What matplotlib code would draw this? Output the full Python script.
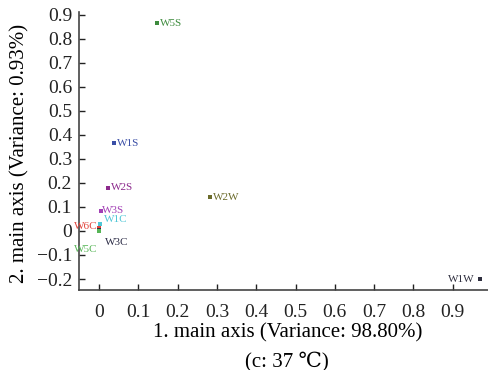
import matplotlib
matplotlib.use('Agg')
import matplotlib.pyplot as plt
from matplotlib.ticker import FuncFormatter

plt.rcParams['font.family'] = ['Liberation Serif', 'DejaVu Serif']
plt.rcParams['axes.unicode_minus'] = True

# Sample scores on the first two main axes
labels = ['W5S', 'W1S', 'W2S', 'W2W', 'W3S', 'W1C', 'W6C', 'W3C', 'W5C', 'W1W']
axis1 = [0.148, 0.038, 0.023, 0.283, 0.005, 0.003, 0.0, 0.001, 0.0, 0.970]
axis2 = [0.865, 0.365, 0.180, 0.140, 0.085, 0.030, 0.012, 0.005, 0.0, -0.200]
colors = ['#3d8b3d', '#3a4ea6', '#8c2a8c', '#6b6b2b', '#a23fb5', '#4fc6d6',
          '#e2443c', '#2b2b45', '#56b556', '#2e2e3e']
# label offsets in points (dx, dy) and alignment
offsets = [(2, 0, 'left'), (2, 0, 'left'), (2, 0, 'left'), (2, 0, 'left'),
           (1, 0, 'left'), (3, 3, 'left'), (-1, 1, 'right'), (4, -9, 'left'),
           (-1, -13, 'right'), (-4, 0, 'right')]

fig = plt.figure(figsize=(4.88, 3.70), dpi=100)
ax = fig.add_axes([0.162, 0.216, 0.838, 0.752])

for x, y, lab, c, (dx, dy, ha) in zip(axis1, axis2, labels, colors, offsets):
    ax.scatter(x, y, marker='s', s=12, color=c, zorder=3, linewidths=0)
    ax.annotate(lab, (x, y), xytext=(dx, dy), textcoords='offset points',
                ha=ha, va='center', fontsize=8, color=c)

ax.set_xlim(-0.051, 0.99)
ax.set_ylim(-0.246, 0.912)
fmt = FuncFormatter(lambda v, p: ('%g' % round(v, 2)).replace('-', '\u2212'))
ax.xaxis.set_major_formatter(fmt)
ax.yaxis.set_major_formatter(fmt)
ax.set_xticks([i / 10 for i in range(10)])
ax.set_yticks([i / 10 for i in range(-2, 10)])

for s in ['top', 'right']:
    ax.spines[s].set_visible(False)
for s in ['left', 'bottom']:
    ax.spines[s].set_linewidth(1.2)
    ax.spines[s].set_color('#444444')
ax.tick_params(direction='in', length=4, width=1, labelsize=14, colors='#222222')
ax.tick_params(axis='x', pad=10)
ax.tick_params(axis='y', pad=5)

ax.set_xlabel('1. main axis (Variance: 98.80%)', fontsize=15, va='center')
ax.set_ylabel('2. main axis (Variance: 0.93%)', fontsize=15, va='center')
ax.xaxis.set_label_coords(0.51, -0.155)
ax.yaxis.set_label_coords(-0.144, 0.49)
fig.text(0.588, 0.024, '(c: 37 \u2103)', ha='center', va='center', fontsize=15)

fig.savefig('out.png', dpi=100)
